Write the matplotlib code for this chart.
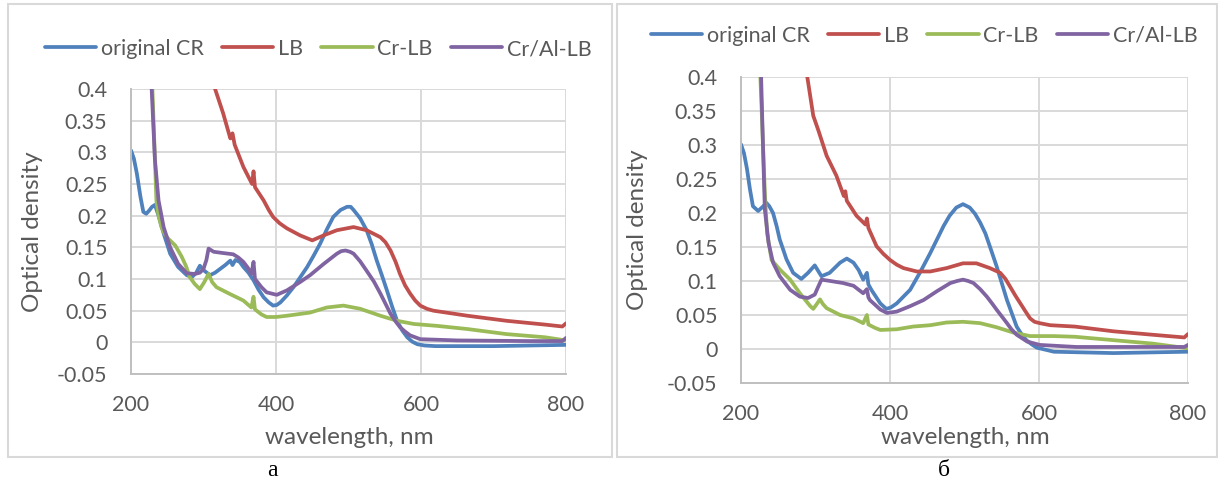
import matplotlib
matplotlib.use('Agg')
from matplotlib import pyplot as plt
from matplotlib.patches import Rectangle
from matplotlib.ticker import FuncFormatter, MultipleLocator

plt.rcParams['font.family'] = ['Lato', 'DejaVu Sans']
plt.rcParams['axes.unicode_minus'] = False

# series names
names = ['original CR', 'LB', 'Cr-LB', 'Cr/Al-LB']
colors = ['#4F81BD', '#C0504D', '#9BBB59', '#8064A2']

# panel a
wl_cr_a = [200, 204, 208, 213, 217, 221, 225, 229, 233, 238, 245, 254, 265, 277, 284, 290, 295, 300, 309, 316,
           323, 330, 337, 340, 344, 350, 355, 362, 369, 376, 383, 390, 396, 401, 406, 415, 424, 433, 443, 452,
           461, 470, 479, 489, 498, 503, 507, 516, 525, 532, 539, 546, 553, 560, 567, 574, 581, 588, 595, 605,
           620, 700, 800]
od_cr_a = [0.303, 0.29, 0.267, 0.23, 0.206, 0.203, 0.208, 0.214, 0.217, 0.2, 0.172, 0.14, 0.119, 0.106, 0.103,
           0.11, 0.121, 0.114, 0.106, 0.11, 0.116, 0.122, 0.129, 0.122, 0.130, 0.127, 0.119, 0.11, 0.098, 0.083,
           0.071, 0.063, 0.058, 0.059, 0.063, 0.074, 0.087, 0.102, 0.119, 0.137, 0.156, 0.178, 0.198, 0.209, 0.214,
           0.214, 0.209, 0.196, 0.177, 0.155, 0.129, 0.106, 0.082, 0.057, 0.034, 0.019, 0.008, 0.001, -0.003,
           -0.005, -0.006, -0.006, -0.004]

wl_lb_a = [300, 316, 327, 337, 340, 343, 355, 367, 369, 371, 383, 390, 396, 405, 415, 433, 450, 466, 484, 507,
           525, 544, 551, 558, 565, 571, 578, 585, 592, 599, 608, 617, 664, 718, 771, 795, 800]
od_lb_a = [0.5, 0.4, 0.362, 0.322, 0.33, 0.312, 0.277, 0.25, 0.27, 0.245, 0.224, 0.209, 0.198, 0.188, 0.18,
           0.169, 0.161, 0.169, 0.177, 0.182, 0.177, 0.166, 0.158, 0.145, 0.127, 0.108, 0.09, 0.077, 0.066, 0.058,
           0.053, 0.05, 0.042, 0.034, 0.028, 0.025, 0.03]

wl_crlb_a = [224, 229.5, 233, 235, 238, 242, 246, 251, 261, 270, 276, 281, 288, 295, 301, 307, 312, 318, 337,
             355, 366, 369, 371, 380, 387, 400, 415, 447, 470, 493, 516, 544, 567, 590, 622, 664, 718, 771, 800]
od_crlb_a = [0.6, 0.4, 0.29, 0.224, 0.2, 0.182, 0.172, 0.164, 0.153, 0.135, 0.12, 0.103, 0.092, 0.084, 0.095,
             0.108, 0.095, 0.087, 0.076, 0.066, 0.055, 0.072, 0.052, 0.044, 0.04, 0.04, 0.042, 0.047, 0.055,
             0.058, 0.053, 0.042, 0.034, 0.029, 0.026, 0.021, 0.013, 0.008, 0.003]

wl_cral_a = [224, 228.5, 233, 238, 245, 254, 265, 277, 288, 295, 300, 304, 307, 314, 327, 341, 348, 355, 361,
             366, 369, 371, 380, 387, 401, 415, 433, 447, 466, 484, 490, 496, 502, 507, 516, 525, 535, 544, 551,
             558, 565, 571, 578, 585, 599, 650, 750, 795, 800]
od_cral_a = [0.6, 0.4, 0.288, 0.224, 0.182, 0.15, 0.124, 0.109, 0.108, 0.11, 0.116, 0.13, 0.148, 0.143, 0.141,
             0.139, 0.134, 0.127, 0.118, 0.108, 0.127, 0.1, 0.087, 0.079, 0.075, 0.082, 0.095, 0.106, 0.124, 0.14,
             0.144, 0.145, 0.143, 0.14, 0.128, 0.113, 0.096, 0.077, 0.061, 0.045, 0.033, 0.024, 0.017, 0.011,
             0.005, 0.003, 0.002, 0.002, 0.007]

# panel б
wl_cr_b = [200, 204, 208, 212, 216, 223, 229, 234, 238, 243, 248, 252, 257, 261, 270, 281, 290, 299, 308, 319,
           333, 342, 351, 358, 364, 369, 371, 375, 381, 387, 395, 401, 409, 418, 427, 440, 454, 463, 472, 480,
           489, 498, 507, 514, 521, 528, 534, 543, 550, 557, 564, 570, 577, 583, 590, 597, 620, 700, 800]
od_cr_b = [0.301, 0.288, 0.265, 0.235, 0.21, 0.203, 0.209, 0.215, 0.21, 0.2, 0.18, 0.161, 0.145, 0.132, 0.112,
           0.103, 0.112, 0.123, 0.107, 0.112, 0.127, 0.133, 0.127, 0.116, 0.102, 0.112, 0.095, 0.087, 0.077,
           0.067, 0.059, 0.061, 0.067, 0.077, 0.087, 0.112, 0.141, 0.161, 0.181, 0.196, 0.208, 0.213, 0.208,
           0.199, 0.186, 0.17, 0.151, 0.122, 0.097, 0.072, 0.051, 0.033, 0.021, 0.013, 0.007, 0.002, -0.004,
           -0.006, -0.004]

wl_lb_b = [280, 289, 297, 304, 315, 328, 338, 340, 342, 355, 367, 369, 371, 382, 391, 400, 409, 418, 436, 454,
           476, 498, 516, 534, 548, 555, 561, 568, 575, 582, 588, 594, 601, 615, 648, 700, 752, 795, 800]
od_lb_b = [0.47, 0.4, 0.343, 0.321, 0.284, 0.255, 0.225, 0.232, 0.218, 0.196, 0.183, 0.192, 0.178, 0.151,
           0.14, 0.131, 0.124, 0.119, 0.114, 0.114, 0.119, 0.126, 0.126, 0.119, 0.112, 0.103, 0.092, 0.079, 0.067,
           0.055, 0.045, 0.04, 0.038, 0.035, 0.033, 0.026, 0.021, 0.017, 0.022]

wl_crlb_b = [222, 226, 232, 235, 241, 252, 266, 279, 293, 297, 301, 306, 310, 315, 333, 351, 364, 369, 371, 380,
             387, 409, 431, 454, 476, 498, 521, 543, 566, 588, 620, 648, 700, 752, 800]
od_crlb_b = [0.6, 0.4, 0.23, 0.171, 0.131, 0.117, 0.102, 0.082, 0.063, 0.059, 0.065, 0.073, 0.066, 0.06, 0.05,
             0.045, 0.038, 0.05, 0.036, 0.031, 0.028, 0.029, 0.033, 0.035, 0.039, 0.04, 0.038, 0.032, 0.024, 0.019,
             0.019, 0.018, 0.013, 0.008, 0.001]

wl_cral_b = [223, 227, 230, 232, 237, 243, 252, 266, 279, 290, 299, 303, 308, 320, 337, 351, 364, 369, 371, 373,
             380, 387, 396, 409, 427, 445, 463, 481, 490, 498, 505, 512, 521, 530, 537, 543, 550, 557, 563, 570,
             584, 601, 650, 750, 795, 800]
od_cral_b = [0.6, 0.4, 0.279, 0.205, 0.156, 0.127, 0.107, 0.087, 0.077, 0.075, 0.08, 0.09, 0.102, 0.1, 0.097,
             0.093, 0.082, 0.088, 0.076, 0.072, 0.065, 0.058, 0.053, 0.055, 0.063, 0.072, 0.085, 0.097, 0.1, 0.102,
             0.1, 0.097, 0.088, 0.077, 0.067, 0.058, 0.048, 0.038, 0.029, 0.021, 0.011, 0.006, 0.003, 0.003, 0.003,
             0.006]

panel_labels = ['\u0430', '\u0431']

W, H = 1218, 488
txt_col = '#595959'
grid_col = '#D9D9D9'


def fx(px):
    return px / W


def fy(py):
    return 1 - py / H


def plot_panel(fig, box, series, leg_xy, ylab_x, xlab_xy, tag_xy, tag):
    l, t, r, b = box
    ax = fig.add_axes([fx(l), fy(b), fx(r) - fx(l), fy(t) - fy(b)])
    for (wl, od), c, n in zip(series, colors, names):
        ax.plot(wl, od, color=c, linewidth=2.7, label=n, solid_joinstyle='round', solid_capstyle='round')
    ax.set_xlim(200, 800)
    ax.set_ylim(-0.05, 0.4)
    ax.xaxis.set_major_locator(MultipleLocator(200))
    ax.yaxis.set_major_locator(MultipleLocator(0.05))
    ax.yaxis.set_major_formatter(FuncFormatter(lambda v, p: '%g' % round(v, 2)))
    ax.grid(True, color=grid_col, linewidth=1.4)
    ax.set_axisbelow(True)
    for s in ['top', 'right']:
        ax.spines[s].set_visible(False)
    for s in ['left', 'bottom']:
        ax.spines[s].set_color('#BFBFBF')
        ax.spines[s].set_linewidth(1.4)
    ax.tick_params(length=0, labelsize=15.5, colors=txt_col)
    ax.tick_params(axis='y', pad=17)
    ax.tick_params(axis='x', pad=15)

    ax.legend(loc='center', bbox_to_anchor=leg_xy, bbox_transform=fig.transFigure, ncol=4, frameon=False,
              handlelength=2.4, handletextpad=0.2, columnspacing=0.85, fontsize=15.5, labelcolor=txt_col)

    fig.text(fx(ylab_x), fy((t + b) / 2), 'Optical density', rotation=90, ha='center', va='center',
             fontsize=17.5, color=txt_col)
    fig.text(fx(xlab_xy[0]), fy(xlab_xy[1]), 'wavelength, nm', ha='center', va='center',
             fontsize=17.5, color=txt_col)
    fig.text(fx(tag_xy[0]), fy(tag_xy[1]), tag, ha='center', va='center', fontsize=17,
             family='Liberation Serif', color='black')
    return ax


fig = plt.figure(figsize=(12.18, 4.88), dpi=100)

# panel frames
fig.patches.append(Rectangle((fx(8), fy(457)), fx(612) - fx(8), fy(4) - fy(457), transform=fig.transFigure,
                             fill=False, edgecolor=grid_col, linewidth=1.5))
fig.patches.append(Rectangle((fx(617), fy(457)), fx(1217) - fx(617), fy(4) - fy(457), transform=fig.transFigure,
                             fill=False, edgecolor=grid_col, linewidth=1.5))

plot_panel(fig, (131, 89, 566, 374),
           [(wl_cr_a, od_cr_a), (wl_lb_a, od_lb_a), (wl_crlb_a, od_crlb_a), (wl_cral_a, od_cral_a)],
           (fx(318), fy(49)), 33, (349, 438), (272, 470), panel_labels[0])
plot_panel(fig, (741, 77, 1188, 383),
           [(wl_cr_b, od_cr_b), (wl_lb_b, od_lb_b), (wl_crlb_b, od_crlb_b), (wl_cral_b, od_cral_b)],
           (fx(924), fy(36)), 638, (965, 438), (944, 470), panel_labels[1])

plt.savefig('out.png', dpi=100)
